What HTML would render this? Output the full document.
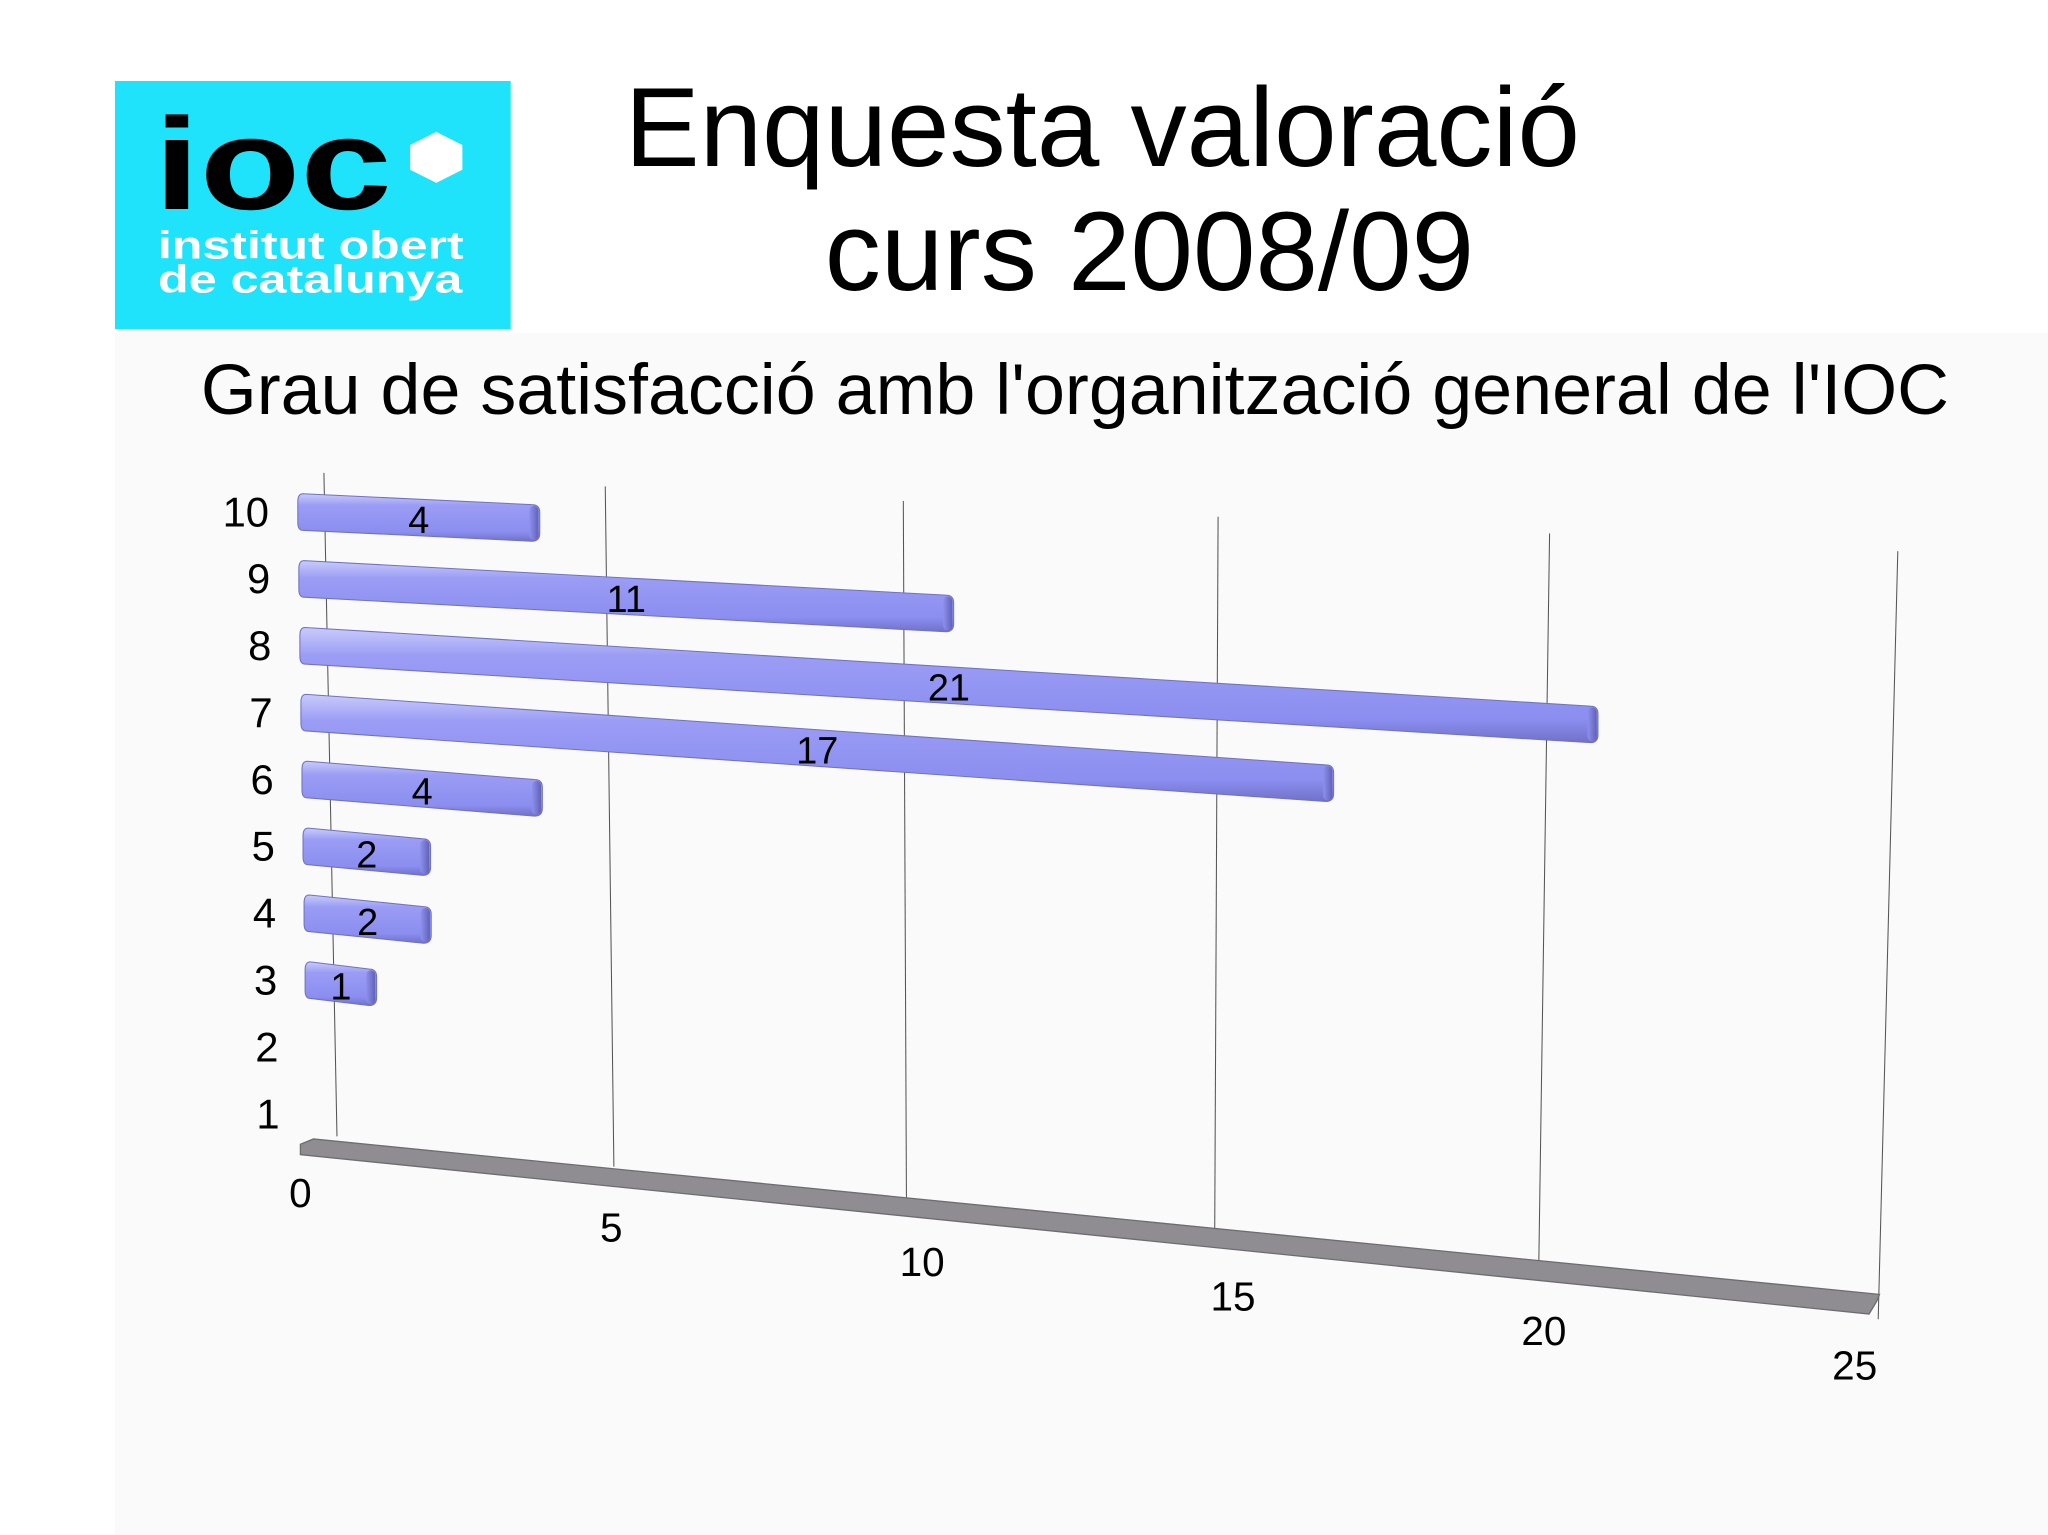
<!DOCTYPE html>
<html><head><meta charset="utf-8"><style>
html,body{margin:0;padding:0;background:#fff;}
svg{display:block;}
text{font-family:"Liberation Sans",Arial,sans-serif;}
</style></head><body>
<svg id="chart" width="2048" height="1535" viewBox="0 0 1568 1175.2" preserveAspectRatio="none" xmlns="http://www.w3.org/2000/svg">
<defs>
<linearGradient id="barg" x1="0" y1="0" x2="0" y2="1">
<stop offset="0" stop-color="#c9cbfb"/><stop offset="0.25" stop-color="#9a9cf5"/><stop offset="0.8" stop-color="#8c8ef0"/><stop offset="1" stop-color="#6f71c8"/>
</linearGradient>
<linearGradient id="capg" x1="0" y1="0" x2="1" y2="0">
<stop offset="0" stop-color="#8e90ee"/><stop offset="1" stop-color="#6062b8"/>
</linearGradient>
</defs>
<rect x="88" y="255" width="1480" height="920" fill="#fafafa"/>
<g>
<rect x="88" y="62" width="303" height="190" fill="#1ee3fa"/>
<text x="118" y="160" font-size="100" font-weight="bold" fill="#000" textLength="182" lengthAdjust="spacingAndGlyphs">ioc</text>
<polygon points="334,101 354,111 354,130 334,140 314,130 314,111" fill="#fff"/>
<text x="121" y="198" font-size="30" font-weight="bold" fill="#fff" textLength="234" lengthAdjust="spacingAndGlyphs">institut obert</text>
<text x="121" y="224" font-size="30" font-weight="bold" fill="#fff" textLength="233" lengthAdjust="spacingAndGlyphs">de catalunya</text>
</g>
<text x="844" y="127" font-size="86" text-anchor="middle" fill="#000">Enquesta valoració</text>
<text x="880" y="222" font-size="86" text-anchor="middle" fill="#000">curs 2008/09</text>
<text x="823" y="317" font-size="55" text-anchor="middle" fill="#000">Grau de satisfacció amb l'organització general de l'IOC</text>
<g id="grid"></g>
<g id="floor"></g>
<g id="bars"></g>
<g id="labels"></g>
</svg>
<script>
const categories = [1,2,3,4,5,6,7,8,9,10];
const values = [0,0,1,2,2,4,17,21,11,4];
const xTicks = [0,5,10,15,20,25];
const NS = "http://www.w3.org/2000/svg";
function mk(tag, attrs, parent){const e=document.createElementNS(NS,tag);for(const k in attrs)e.setAttribute(k,attrs[k]);parent.appendChild(e);return e;}
// perspective axis functions
function gridBottom(v){const t=v/5;return [258+206*t+6*t*t, 870+22*t+1.2*t*t];}
function gridTop(v){const t=v/5;return [248+209*t+6.4*t*t, 362+10*t+0.4*t*t];}
function rowY(c){return 392+(10-c)*51.2;}
function rowX0(c){return 228+(10-c)*0.8;}
function rowSlope(c){const t=(10-c)/9;return 0.045+t*0.07;}
function valX(c,v){const t=v/5;return 243+208*t+6*t*t+(10-c)*0.5;}
const grid=document.getElementById('grid'),floor=document.getElementById('floor'),bars=document.getElementById('bars'),labels=document.getElementById('labels');
xTicks.forEach(v=>{
  const b=gridBottom(v),t=gridTop(v);
  const l=mk('line',{x1:t[0],y1:t[1],x2:b[0],y2:b[1],stroke:'#555','stroke-width':0.8},grid);
  
  
  const tx=mk('text',{x:230+v*47.6,y:924+v*5.28,'font-size':31,'text-anchor':'middle',fill:'#000'},labels);
  tx.textContent=v;
  
  
});
const b0=[230,876],b1=[1437,994];
const slab=mk('polygon',{points:`${b0[0]},${b0[1]} ${b0[0]+10},${b0[1]-4} ${b1[0]+2},${b1[1]-3} ${b1[0]},${b1[1]+2} ${b1[0]-6},${b1[1]+12} ${b0[0]},${b0[1]+8}`,fill:'#8f8d92',stroke:'#6e6c70','stroke-width':1},floor);


categories.forEach((c,i)=>{
  const y=rowY(c);
  const yl=mk('text',{x:206+(10-c)*0.9,y:y+11,'font-size':32,'text-anchor':'end',fill:'#000'},labels);
  yl.textContent=c;
  
  
  const v=values[i];
  if(v<=0)return;
  const x0=rowX0(c),x1=valX(c,v),s=rowSlope(c),h=28;
  const yt0=y-14,yt1=yt0+(x1-x0)*s;
  const g=mk('g',{},bars);
  
  
  mk('path',{d:`M${x0+4},${yt0} L${x1-6},${yt1} Q${x1},${yt1} ${x1},${yt1+6} L${x1},${yt1+h-6} Q${x1},${yt1+h} ${x1-6},${yt1+h} L${x0+4},${yt0+h} Q${x0},${yt0+h} ${x0},${yt0+h-6} L${x0},${yt0+6} Q${x0},${yt0} ${x0+4},${yt0} Z`,fill:'url(#barg)',stroke:'#7072c0','stroke-width':0.8},g);
  mk('rect',{x:x1-8,y:yt1+1,width:7,height:h-2,rx:3.5,fill:'url(#capg)'},g);
  const mx=(x0+x1)/2;
  const vl=mk('text',{x:mx,y:yt0+(mx-x0)*s+h/2+12,'font-size':29,'text-anchor':'middle',fill:'#000'},labels);
  vl.textContent=v;
  
  
});
</script>
</body></html>
